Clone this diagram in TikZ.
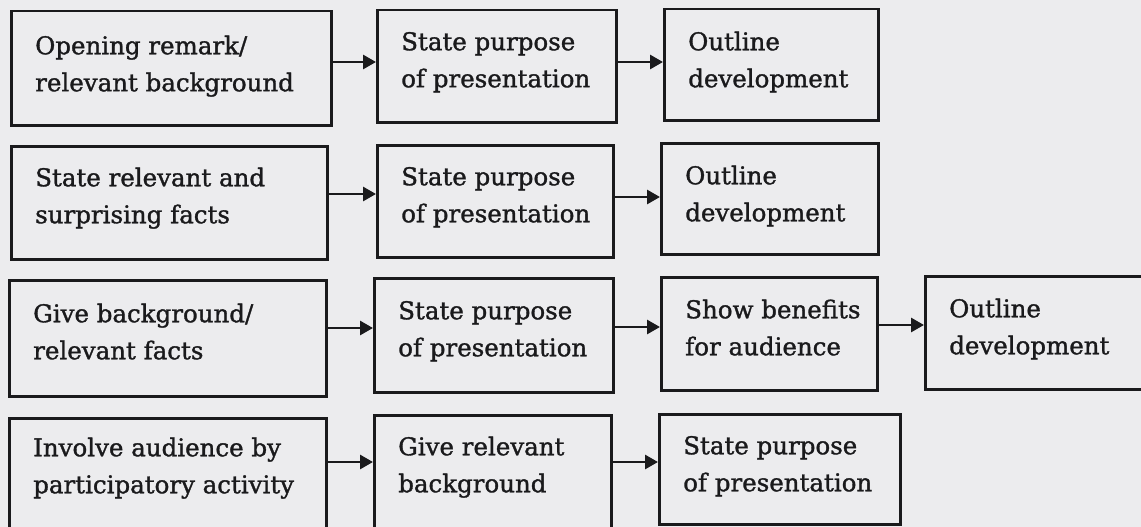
\documentclass[tikz,border=0pt]{standalone}
\usepackage{fontspec}
\setmainfont{DejaVu Serif}
\newfontfamily\stagefont[FakeBold=1.3]{DejaVu Serif}
\usetikzlibrary{arrows.meta}

\definecolor{paper}{RGB}{236,236,238}
\definecolor{ink}{RGB}{26,26,28}

% Box content: width, height, first-baseline offset, lines
\newcommand\stagetext[4]{%
  \parbox[c][#2][t]{#1}{\raggedright\setlength{\leftskip}{24pt}%
    \stagefont\fontsize{24.5}{37}\selectfont\rule{0pt}{#3}#4}}

\tikzset{
  stagebox/.style={draw=ink, text=ink, line width=2.5pt, inner sep=0pt, anchor=north west},
  flow/.style={draw=ink, line width=2.8pt, -{Triangle[length=13pt,width=14pt]}}
}

\begin{document}
\begin{tikzpicture}[x=1pt,y=-1pt]
  \fill[paper] (0,0) rectangle (1141,527);
  \useasboundingbox (0,0) rectangle (1141,527);

  % row 1
  \node[stagebox] (a1) at (10,10)  {\stagetext{320pt}{114pt}{43pt}{Opening remark/\\relevant background}};
  \node[stagebox] (a2) at (376,9)  {\stagetext{239pt}{112pt}{40pt}{State purpose\\of presentation}};
  \node[stagebox] (a3) at (663,8)  {\stagetext{214pt}{111pt}{41pt}{Outline\\development}};

  % row 2
  \node[stagebox] (b1) at (10,145) {\stagetext{316pt}{113pt}{40pt}{State relevant and\\surprising facts}};
  \node[stagebox] (b2) at (376,144){\stagetext{236pt}{112pt}{40pt}{State purpose\\of presentation}};
  \node[stagebox] (b3) at (660,142){\stagetext{217pt}{111pt}{41pt}{Outline\\development}};

  % row 3
  \node[stagebox] (c1) at (8,279)  {\stagetext{317pt}{116pt}{42pt}{Give background/\\relevant facts}};
  \node[stagebox] (c2) at (373,277){\stagetext{239pt}{114pt}{41pt}{State purpose\\of presentation}};
  \node[stagebox] (c3) at (660,276){\stagetext{216pt}{113pt}{41pt}{Show benefits\\for audience}};
  \node[stagebox] (c4) at (924,275){\stagetext{240pt}{113pt}{41pt}{Outline\\development}};

  % row 4
  \node[stagebox] (d1) at (8,417)  {\stagetext{317pt}{115pt}{38pt}{Involve audience by\\participatory activity}};
  \node[stagebox] (d2) at (373,414){\stagetext{237pt}{115pt}{40pt}{Give relevant\\background}};
  \node[stagebox] (d3) at (658,413){\stagetext{241pt}{110pt}{40pt}{State purpose\\of presentation}};

  % connectors
  \draw[flow] (a1.east |- 0,62)  -- (a2.west |- 0,62);
  \draw[flow] (a2.east |- 0,62)  -- (a3.west |- 0,62);
  \draw[flow] (b1.east |- 0,194) -- (b2.west |- 0,194);
  \draw[flow] (b2.east |- 0,197) -- (b3.west |- 0,197);
  \draw[flow] (c1.east |- 0,328) -- (c2.west |- 0,328);
  \draw[flow] (c2.east |- 0,327) -- (c3.west |- 0,327);
  \draw[flow] (c3.east |- 0,325) -- (c4.west |- 0,325);
  \draw[flow] (d1.east |- 0,462) -- (d2.west |- 0,462);
  \draw[flow] (d2.east |- 0,462) -- (d3.west |- 0,462);
\end{tikzpicture}
\end{document}
